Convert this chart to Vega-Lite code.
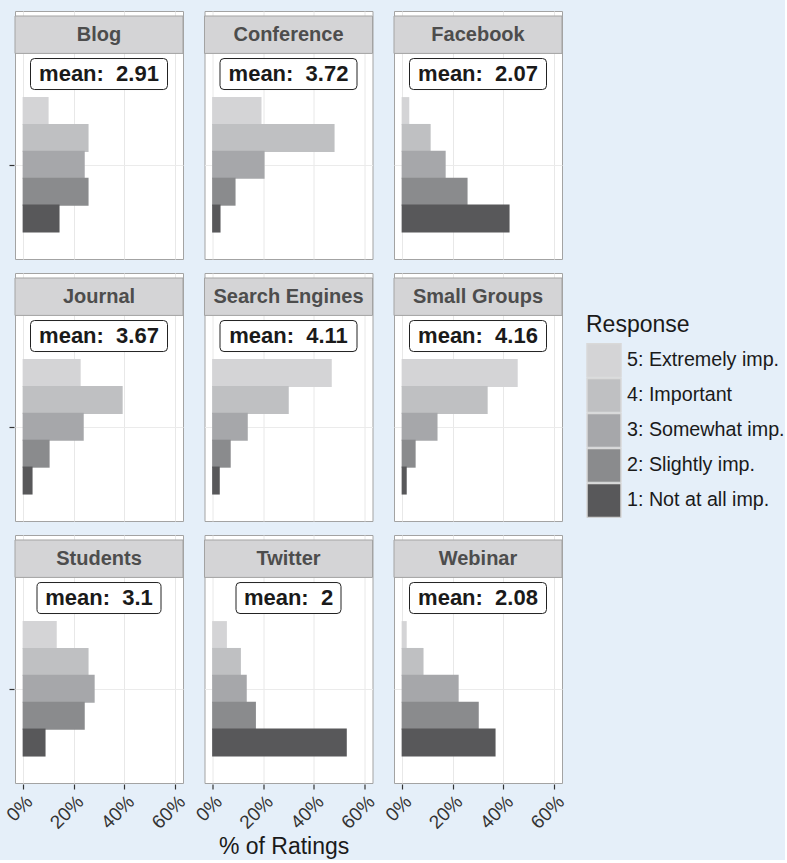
{
  "$schema": "https://vega.github.io/schema/vega-lite/v6.json",
  "padding": {"top": 10, "left": 3, "right": 0, "bottom": 0},
  "background": "#e5eff9",
  "title": {"text": "% of Ratings", "orient": "bottom", "anchor": "middle", "fontSize": 23, "fontWeight": "normal", "color": "#1a1a1a", "font": "Liberation Sans", "offset": 4, "dx": -110},
  "data": {"values": [
    {"Source": "Blog", "Response": "5: Extremely imp.", "level": 5, "pct": 10.2},
    {"Source": "Blog", "Response": "4: Important", "level": 4, "pct": 25.9},
    {"Source": "Blog", "Response": "3: Somewhat imp.", "level": 3, "pct": 24.4},
    {"Source": "Blog", "Response": "2: Slightly imp.", "level": 2, "pct": 25.9},
    {"Source": "Blog", "Response": "1: Not at all imp.", "level": 1, "pct": 14.5},
    {"Source": "Conference", "Response": "5: Extremely imp.", "level": 5, "pct": 19.4},
    {"Source": "Conference", "Response": "4: Important", "level": 4, "pct": 48.1},
    {"Source": "Conference", "Response": "3: Somewhat imp.", "level": 3, "pct": 20.6},
    {"Source": "Conference", "Response": "2: Slightly imp.", "level": 2, "pct": 9.2},
    {"Source": "Conference", "Response": "1: Not at all imp.", "level": 1, "pct": 3.3},
    {"Source": "Facebook", "Response": "5: Extremely imp.", "level": 5, "pct": 3.0},
    {"Source": "Facebook", "Response": "4: Important", "level": 4, "pct": 11.4},
    {"Source": "Facebook", "Response": "3: Somewhat imp.", "level": 3, "pct": 17.3},
    {"Source": "Facebook", "Response": "2: Slightly imp.", "level": 2, "pct": 25.9},
    {"Source": "Facebook", "Response": "1: Not at all imp.", "level": 1, "pct": 42.4},
    {"Source": "Journal", "Response": "5: Extremely imp.", "level": 5, "pct": 22.8},
    {"Source": "Journal", "Response": "4: Important", "level": 4, "pct": 39.3},
    {"Source": "Journal", "Response": "3: Somewhat imp.", "level": 3, "pct": 24.0},
    {"Source": "Journal", "Response": "2: Slightly imp.", "level": 2, "pct": 10.6},
    {"Source": "Journal", "Response": "1: Not at all imp.", "level": 1, "pct": 3.9},
    {"Source": "Search Engines", "Response": "5: Extremely imp.", "level": 5, "pct": 47.0},
    {"Source": "Search Engines", "Response": "4: Important", "level": 4, "pct": 30.1},
    {"Source": "Search Engines", "Response": "3: Somewhat imp.", "level": 3, "pct": 14.0},
    {"Source": "Search Engines", "Response": "2: Slightly imp.", "level": 2, "pct": 7.3},
    {"Source": "Search Engines", "Response": "1: Not at all imp.", "level": 1, "pct": 3.0},
    {"Source": "Small Groups", "Response": "5: Extremely imp.", "level": 5, "pct": 45.6},
    {"Source": "Small Groups", "Response": "4: Important", "level": 4, "pct": 33.8},
    {"Source": "Small Groups", "Response": "3: Somewhat imp.", "level": 3, "pct": 14.1},
    {"Source": "Small Groups", "Response": "2: Slightly imp.", "level": 2, "pct": 5.5},
    {"Source": "Small Groups", "Response": "1: Not at all imp.", "level": 1, "pct": 2.0},
    {"Source": "Students", "Response": "5: Extremely imp.", "level": 5, "pct": 13.4},
    {"Source": "Students", "Response": "4: Important", "level": 4, "pct": 25.9},
    {"Source": "Students", "Response": "3: Somewhat imp.", "level": 3, "pct": 28.3},
    {"Source": "Students", "Response": "2: Slightly imp.", "level": 2, "pct": 24.4},
    {"Source": "Students", "Response": "1: Not at all imp.", "level": 1, "pct": 9.0},
    {"Source": "Twitter", "Response": "5: Extremely imp.", "level": 5, "pct": 5.8},
    {"Source": "Twitter", "Response": "4: Important", "level": 4, "pct": 11.3},
    {"Source": "Twitter", "Response": "3: Somewhat imp.", "level": 3, "pct": 13.6},
    {"Source": "Twitter", "Response": "2: Slightly imp.", "level": 2, "pct": 17.2},
    {"Source": "Twitter", "Response": "1: Not at all imp.", "level": 1, "pct": 52.9},
    {"Source": "Webinar", "Response": "5: Extremely imp.", "level": 5, "pct": 2.0},
    {"Source": "Webinar", "Response": "4: Important", "level": 4, "pct": 8.6},
    {"Source": "Webinar", "Response": "3: Somewhat imp.", "level": 3, "pct": 22.4},
    {"Source": "Webinar", "Response": "2: Slightly imp.", "level": 2, "pct": 30.3},
    {"Source": "Webinar", "Response": "1: Not at all imp.", "level": 1, "pct": 36.9},
    {"Source": "Blog", "label": "mean:\u00a0\u00a02.91"},
    {"Source": "Conference", "label": "mean:\u00a0\u00a03.72"},
    {"Source": "Facebook", "label": "mean:\u00a0\u00a02.07"},
    {"Source": "Journal", "label": "mean:\u00a0\u00a03.67"},
    {"Source": "Search Engines", "label": "mean:\u00a0\u00a04.11"},
    {"Source": "Small Groups", "label": "mean:\u00a0\u00a04.16"},
    {"Source": "Students", "label": "mean:\u00a0\u00a03.1"},
    {"Source": "Twitter", "label": "mean:\u00a0\u00a02"},
    {"Source": "Webinar", "label": "mean:\u00a0\u00a02.08"}
  ]},
  "facet": {"field": "Source", "type": "nominal", "title": null, "header": {"labels": false, "title": null, "labelFontSize": 0, "labelPadding": 0, "labelExpr": "''"}},
  "columns": 3,
  "spacing": {"row": 12, "column": 19.5},
  "spec": {
    "width": 168,
    "height": 248,
    "layer": [
      {
        "transform": [{"filter": "isValid(datum.pct)"}],
        "mark": {"type": "bar", "orient": "horizontal", "height": 28},
        "encoding": {
          "x": {"field": "pct", "type": "quantitative", "stack": null, "title": null,
            "scale": {"domain": [-3, 63], "nice": false, "zero": false},
            "axis": {"values": [0, 10, 20, 30, 40, 50, 60], "title": null, "domain": false,
              "labelExpr": "datum.value % 20 == 0 ? datum.value + '%' : ''",
              "labelAngle": -45, "labelFontSize": 19, "labelColor": "#333333", "labelFont": "Liberation Sans", "labelPadding": 3,
              "tickColor": "#333333", "tickSize": 5, "tickWidth": 1.2,
              "tickOpacity": {"condition": {"test": "datum.value % 20 != 0", "value": 0}, "value": 1},
              "grid": true,
              "gridColor": {"condition": {"test": "datum.value % 20 != 0", "value": "#f4f4f4"}, "value": "#e8e8e8"},
              "gridWidth": 1}},
          "y": {"field": "level", "type": "quantitative", "title": null,
            "scale": {"domain": [-0.32, 8.54], "nice": false, "zero": false},
            "axis": {"values": [3], "labels": false, "title": null, "domain": false, "ticks": true, "tickSize": 5, "tickColor": "#333333", "tickWidth": 1.2, "grid": true, "gridColor": "#ebebeb"}},
          "color": {"field": "Response", "type": "nominal",
            "scale": {"domain": ["5: Extremely imp.", "4: Important", "3: Somewhat imp.", "2: Slightly imp.", "1: Not at all imp."],
              "range": ["#d4d4d6", "#bfc0c2", "#a6a7aa", "#8a8b8d", "#58585a"]},
            "legend": {"title": "Response", "orient": "none", "legendX": 571, "legendY": 303,
              "symbolType": "square", "symbolSize": 1156, "symbolStrokeColor": "#d9d9d9", "symbolStrokeWidth": 1.5, "symbolOpacity": 1,
              "clipHeight": 34.8,
              "labelFontSize": 19.7, "labelFont": "Liberation Sans", "labelColor": "#1a1a1a", "labelOffset": 5,
              "titleFontSize": 23, "titleFontWeight": "normal", "titleFont": "Liberation Sans", "titleColor": "#1a1a1a", "titlePadding": 6,
              "rowPadding": 0}}
        }
      },
      {
        "transform": [{"filter": "isValid(datum.label)"}],
        "mark": {"type": "rect", "fill": "#d4d4d6", "stroke": "#a3a3a3", "strokeWidth": 1},
        "encoding": {
          "x": {"datum": -3, "type": "quantitative", "title": null},
          "x2": {"datum": 63},
          "y": {"datum": 7.147, "type": "quantitative", "title": null},
          "y2": {"datum": 8.54}
        }
      },
      {
        "transform": [{"filter": "isValid(datum.label)"}],
        "mark": {"type": "text", "font": "Liberation Sans", "fontWeight": "bold", "fontSize": 20, "color": "#4d4d4d", "baseline": "middle", "align": "center"},
        "encoding": {
          "x": {"datum": 30, "type": "quantitative", "title": null},
          "y": {"datum": 7.844, "type": "quantitative", "title": null},
          "text": {"field": "Source"}
        }
      },
      {
        "transform": [{"filter": "isValid(datum.label)"}],
        "mark": {"type": "point", "filled": true, "fill": "white", "fillOpacity": 1, "stroke": "#222222", "strokeWidth": 1, "strokeOpacity": 1, "opacity": 1},
        "encoding": {
          "x": {"datum": 30, "type": "quantitative", "title": null},
          "y": {"datum": 6.38, "type": "quantitative", "title": null},
          "shape": {
            "condition": [
              {"test": "length(datum.label) == 10", "value": "M-0.935,-0.25L0.935,-0.25Q1,-0.25 1,-0.185L1,0.185Q1,0.25 0.935,0.25L-0.935,0.25Q-1,0.25 -1,0.185L-1,-0.185Q-1,-0.25 -0.935,-0.25Z"},
              {"test": "length(datum.label) == 8", "value": "M-0.924,-0.295L0.924,-0.295Q1,-0.295 1,-0.219L1,0.219Q1,0.295 0.924,0.295L-0.924,0.295Q-1,0.295 -1,0.219L-1,-0.219Q-1,-0.295 -0.924,-0.295Z"}
            ],
            "value": "M-0.942,-0.2263L0.942,-0.2263Q1,-0.2263 1,-0.168L1,0.168Q1,0.2263 0.942,0.2263L-0.942,0.2263Q-1,0.2263 -1,0.168L-1,-0.168Q-1,-0.2263 -0.942,-0.2263Z"
          },
          "size": {
            "condition": [
              {"test": "length(datum.label) == 10", "value": 15376},
              {"test": "length(datum.label) == 8", "value": 11025}
            ],
            "value": 18769
          }
        }
      },
      {
        "transform": [{"filter": "isValid(datum.label)"}],
        "mark": {"type": "text", "font": "Liberation Sans", "fontWeight": "bold", "fontSize": 22, "color": "#1a1a1a", "baseline": "middle", "align": "center"},
        "encoding": {
          "x": {"datum": 30, "type": "quantitative", "title": null},
          "y": {"datum": 6.38, "type": "quantitative", "title": null},
          "text": {"field": "label"}
        }
      }
    ]
  },
  "config": {
    "view": {"stroke": "#a3a3a3", "strokeWidth": 1, "fill": "white"},
    "font": "Liberation Sans",
    "header": {"labels": false, "title": null, "labelFontSize": 0, "labelPadding": 0},
    "headerFacet": {"labels": false, "title": null, "labelFontSize": 0, "labelPadding": 0}
  }
}
